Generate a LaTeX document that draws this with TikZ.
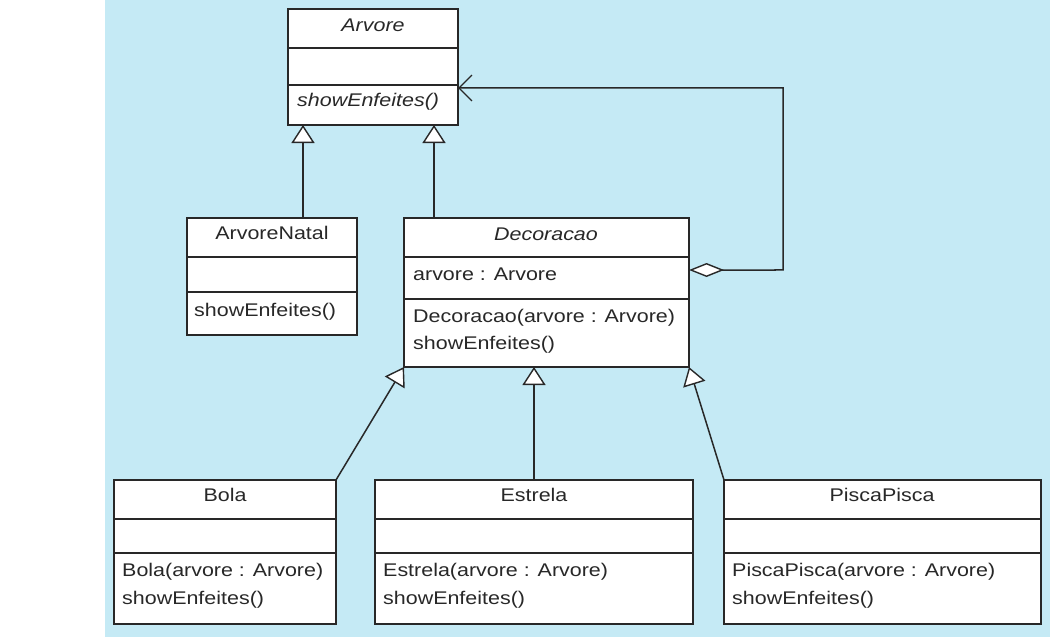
\documentclass[tikz,border=0pt]{standalone}
\usepackage{fontspec}
\setmainfont{Liberation Sans}[FakeStretch=1.17]
\usetikzlibrary{arrows.meta,calc}
\definecolor{bgblue}{RGB}{197,234,245}
\definecolor{ink}{RGB}{40,40,40}
\begin{document}
\begin{tikzpicture}[x=1bp,y=-1bp,
  classbox/.style={draw=ink, line width=1.7bp, fill=white, inner sep=0, outer sep=0, anchor=north west},
  divider/.style={draw=ink, line width=1.4bp},
  txt/.style={inner sep=0, text height=13bp, text depth=0bp, text=ink, font=\fontsize{18.4}{22}\selectfont},
  lefttxt/.style={txt, anchor=west},
  inh/.style={draw=ink, line width=1.5bp, -{Triangle[fill=white,length=18bp,width=23bp,line width=1.4bp]}},
  agg/.style={draw=ink, line width=1.5bp, {Diamond[fill=white,length=35bp,width=14bp,line width=1.4bp]}-{Straight Barb[length=13bp,width=26bp,line width=1.4bp]}}
]
\useasboundingbox (0,0) rectangle (1050,637);
\fill[white] (0,0) rectangle (1050,637);
\fill[bgblue] (105,0) rectangle (1050,637);

% Arvore
\node[classbox, minimum width=170bp, minimum height=116bp] (arv) at (288,9) {};
\draw[divider] (288,48) -- (458,48);
\draw[divider] (288,85) -- (458,85);
\node[txt, font=\fontsize{18.4}{22}\selectfont\itshape] (arvT) at (373,25) {Arvore};
\node[lefttxt, font=\fontsize{18.4}{22}\selectfont\itshape] (arvM) at (297,100) {showEnfeites()};

% ArvoreNatal
\node[classbox, minimum width=170bp, minimum height=117bp] (nat) at (187,218) {};
\draw[divider] (187,257) -- (357,257);
\draw[divider] (187,292) -- (357,292);
\node[txt] (natT) at (272,233) {ArvoreNatal};
\node[lefttxt] (natM) at (194,310) {showEnfeites()};

% Decoracao
\node[classbox, minimum width=285bp, minimum height=149bp] (dec) at (404,218) {};
\draw[divider] (404,257) -- (689,257);
\draw[divider] (404,299) -- (689,299);
\node[txt, font=\fontsize{18.4}{22}\selectfont\itshape] (decT) at (546,234) {Decoracao};
\node[lefttxt] (decA) at (413,274) {arvore : Arvore};
\node[lefttxt] (decM1) at (413,316) {Decoracao(arvore : Arvore)};
\node[lefttxt] (decM2) at (413,343) {showEnfeites()};

% Bola
\node[classbox, minimum width=222bp, minimum height=144bp] (bola) at (114,480) {};
\draw[divider] (114,519) -- (336,519);
\draw[divider] (114,553) -- (336,553);
\node[txt] (bolaT) at (225,495) {Bola};
\node[lefttxt] (bolaM1) at (122,570) {Bola(arvore : Arvore)};
\node[lefttxt] (bolaM2) at (122,598) {showEnfeites()};

% Estrela
\node[classbox, minimum width=318bp, minimum height=144bp] (est) at (375,480) {};
\draw[divider] (375,519) -- (693,519);
\draw[divider] (375,553) -- (693,553);
\node[txt] (estT) at (534,495) {Estrela};
\node[lefttxt] (estM1) at (383,570) {Estrela(arvore : Arvore)};
\node[lefttxt] (estM2) at (383,598) {showEnfeites()};

% PiscaPisca
\node[classbox, minimum width=317bp, minimum height=144bp] (pis) at (724,480) {};
\draw[divider] (724,519) -- (1041,519);
\draw[divider] (724,553) -- (1041,553);
\node[txt] (pisT) at (882,495) {PiscaPisca};
\node[lefttxt] (pisM1) at (732,570) {PiscaPisca(arvore : Arvore)};
\node[lefttxt] (pisM2) at (732,598) {showEnfeites()};

% Connectors
\draw[inh] ([xshift=31bp]nat.north) -- ([xshift=31bp]nat.north |- arv.south);
\draw[inh] ([xshift=-112.5bp]dec.north) -- ([xshift=-112.5bp]dec.north |- arv.south);
\draw[inh] (bola.north east) -- (dec.south west);
\draw[inh] (est.north) -- (est.north |- dec.south);
\draw[inh] (pis.north west) -- (dec.south east);
\coordinate (aggturn) at (783,270);
\draw[agg] ([yshift=22.5bp]dec.east) -- (aggturn) |- ([yshift=-21bp]arv.east);
\end{tikzpicture}
\end{document}
